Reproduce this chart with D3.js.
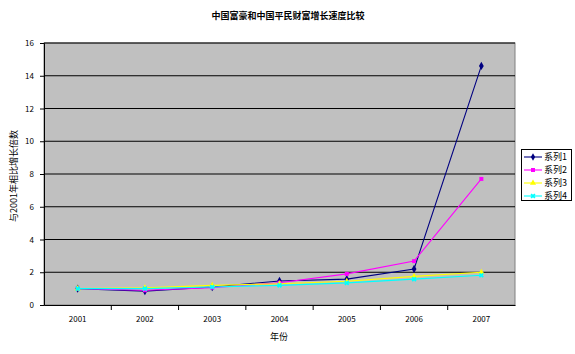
<!DOCTYPE html>
<html><head><meta charset="utf-8">
<script src="https://cdn.jsdelivr.net/npm/d3@7"></script>
<style>body{margin:0;background:#fff}svg{display:block}</style>
</head><body>
<script>
const years = ["2001","2002","2003","2004","2005","2006","2007"];
const series1 = [1, 0.85, 1.1, 1.47, 1.58, 2.2, 14.6];
const series2 = [1, 0.9, 1.05, 1.36, 1.9, 2.68, 7.7];
const series3 = [1, 1.05, 1.2, 1.3, 1.45, 1.75, 2.0];
const series4 = [1, 1.0, 1.1, 1.2, 1.35, 1.58, 1.82];
const seriesNames = ["系列1","系列2","系列3","系列4"];
const yTicks = [0,2,4,6,8,10,12,14,16];
const titleText = "中国富豪和中国平民财富增长速度比较";
const yTitle = "与2001年相比增长倍数";
const xTitle = "年份";

const colors = ["#000080","#ff00ff","#ffff00","#00ffff"];
const markers = [d3.symbolDiamond, d3.symbolSquare, d3.symbolTriangle, d3.symbolCross];
const allSeries = [series1,series2,series3,series4];

const W=575,H=354;
const svg=d3.select("body").append("svg").attr("width",W).attr("height",H);
const font='"Noto Sans CJK SC", sans-serif';
const m={l:44,r:515,t:43,b:305};
const x=d3.scaleBand().domain(years).range([m.l,m.r]);
const y=d3.scaleLinear().domain([0,16]).range([m.b,m.t]);

svg.append("rect").attr("x",m.l).attr("y",m.t).attr("width",m.r-m.l).attr("height",m.b-m.t).attr("fill","#c0c0c0").attr("stroke","#808080");
svg.append("g").selectAll("line").data(yTicks.filter(d=>d>0)).join("line")
  .attr("x1",m.l).attr("x2",m.r).attr("y1",d=>y(d)).attr("y2",d=>y(d)).attr("stroke","#000").attr("stroke-width",1);

const ya=svg.append("g").attr("transform",`translate(${m.l},0)`)
  .call(d3.axisLeft(y).tickValues(yTicks).tickSize(4).tickPadding(6));
ya.select(".domain").attr("stroke","#000");
ya.selectAll("text").attr("font-family",font).attr("font-size",8).attr("fill","#000");
const xa=svg.append("g").attr("transform",`translate(0,${m.b})`)
  .call(d3.axisBottom(x).tickSize(0).tickPadding(11));
xa.select(".domain").attr("stroke","#000");
xa.selectAll("text").attr("font-family",font).attr("font-size",8).attr("fill","#000");
svg.append("g").selectAll("line").data(years.slice(1)).join("line")
  .attr("x1",d=>x(d)).attr("x2",d=>x(d)).attr("y1",m.b).attr("y2",m.b+5).attr("stroke","#000");

const line=d3.line().x((d,i)=>x(years[i])+x.bandwidth()/2).y(d=>y(d));
allSeries.forEach((s,k)=>{
  svg.append("path").datum(s).attr("d",line).attr("fill","none").attr("stroke",colors[k]).attr("stroke-width",1.1);
  svg.append("g").selectAll("path").data(s).join("path")
    .attr("transform",(d,i)=>`translate(${x(years[i])+x.bandwidth()/2},${y(d)})${k===3?" rotate(45)":""}`)
    .attr("d",d3.symbol().type(markers[k]).size(k===0?20:16)).attr("fill",colors[k]);
});

svg.append("text").attr("x",288).attr("y",19).attr("text-anchor","middle").attr("font-family",font).attr("font-size",9).attr("font-weight","bold").text(titleText);
svg.append("text").attr("transform","translate(17,176) rotate(-90)").attr("text-anchor","middle").attr("font-family",font).attr("font-size",9).text(yTitle);
svg.append("text").attr("x",279).attr("y",340).attr("text-anchor","middle").attr("font-family",font).attr("font-size",9).text(xTitle);

const lg=svg.append("g");
lg.append("rect").attr("x",521.5).attr("y",149.5).attr("width",50).attr("height",51).attr("fill","#fff").attr("stroke","#000");
seriesNames.forEach((n,k)=>{
  const yy=157+k*13;
  lg.append("line").attr("x1",524).attr("x2",542).attr("y1",yy).attr("y2",yy).attr("stroke",colors[k]).attr("stroke-width",1.1);
  lg.append("path").attr("transform",`translate(533,${yy})${k===3?" rotate(45)":""}`).attr("d",d3.symbol().type(markers[k]).size(16)).attr("fill",colors[k]);
  lg.append("text").attr("x",544).attr("y",yy+3).attr("font-family",font).attr("font-size",9).text(n);
});
</script>
</body></html>
